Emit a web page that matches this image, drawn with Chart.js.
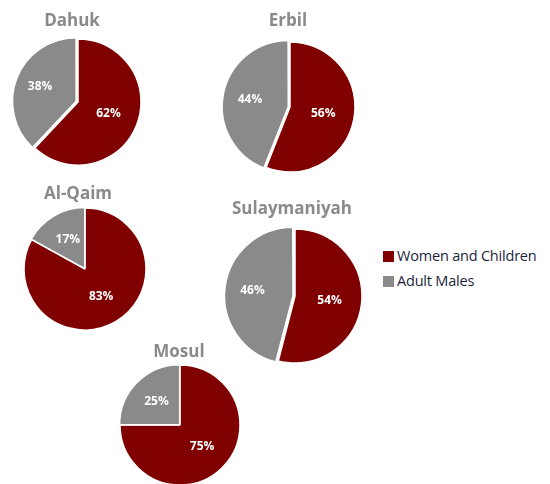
<!DOCTYPE html>
<html>
<head>
<meta charset="utf-8">
<script src="https://cdn.jsdelivr.net/npm/chart.js@4/dist/chart.umd.min.js"></script>
<style>
  html, body { margin: 0; padding: 0; background: #fff; }
  body { width: 550px; height: 484px; position: relative; overflow: hidden; font-family: "Open Sans", "Noto Sans", sans-serif; }
  .pie { position: absolute; }
  .title { position: absolute; transform: translate(-50%, -50%); font-weight: bold; font-size: 17px; color: #8a8a8a; white-space: nowrap; }
  .legend { position: absolute; left: 383px; top: 243px; font-size: 14.5px; color: #1c1f3a; letter-spacing: -0.2px; }
  .legend div { height: 25px; line-height: 25px; white-space: nowrap; }
  .legend span { display: inline-block; width: 11px; height: 11px; margin-right: 3px; vertical-align: -1px; }
</style>
</head>
<body>
<div class="legend" id="legend"></div>
<script>
// chart data
var regions = ['Dahuk', 'Erbil', 'Al-Qaim', 'Sulaymaniyah', 'Mosul'];
var seriesNames = ['Women and Children', 'Adult Males'];
var womenChildren = [62, 56, 83, 54, 75];
var adultMales = [38, 44, 17, 46, 25];

var colors = ['#800000', '#8a8a8a'];

// where each pie sits on the page: centre, radius, how far the gray slice is pulled out, title position
var layout = [
  { cx: 78,  cy: 102, r: 63, pull: 8, tx: 72,  ty: 19 },
  { cx: 290, cy: 107, r: 65, pull: 7, tx: 288, ty: 19 },
  { cx: 85,  cy: 269, r: 61, pull: 2, tx: 78,  ty: 192 },
  { cx: 295, cy: 296, r: 67, pull: 8, tx: 292, ty: 207 },
  { cx: 180, cy: 425, r: 60, pull: 2, tx: 179, ty: 350 }
];

// percent labels drawn inside each slice
var sliceLabels = {
  id: 'sliceLabels',
  afterDatasetsDraw: function (chart) {
    var ctx = chart.ctx;
    var meta = chart.getDatasetMeta(0);
    var values = chart.data.datasets[0].data;
    ctx.save();
    ctx.font = 'bold 12px "Open Sans", "Noto Sans", sans-serif';
    ctx.fillStyle = '#ffffff';
    ctx.textAlign = 'center';
    ctx.textBaseline = 'middle';
    meta.data.forEach(function (arc, i) {
      var mid = (arc.startAngle + arc.endAngle) / 2;
      var off = arc.options.offset || 0;
      var d = arc.outerRadius * 0.52 + off;
      ctx.fillText(values[i] + '%', arc.x + Math.cos(mid) * d, arc.y + Math.sin(mid) * d);
    });
    ctx.restore();
  }
};

var SIZE = 170;

regions.forEach(function (name, i) {
  var L = layout[i];

  var box = document.createElement('div');
  box.className = 'pie';
  box.style.left = (L.cx - SIZE / 2) + 'px';
  box.style.top = (L.cy - SIZE / 2) + 'px';
  box.style.width = SIZE + 'px';
  box.style.height = SIZE + 'px';
  var canvas = document.createElement('canvas');
  box.appendChild(canvas);
  document.body.appendChild(box);

  var title = document.createElement('div');
  title.className = 'title';
  title.style.left = L.tx + 'px';
  title.style.top = L.ty + 'px';
  title.textContent = name;
  document.body.appendChild(title);

  new Chart(canvas, {
    type: 'pie',
    data: {
      labels: seriesNames,
      datasets: [{
        data: [womenChildren[i], adultMales[i]],
        backgroundColor: colors,
        borderColor: '#ffffff',
        borderWidth: 1.5,
        offset: [0, L.pull],
        radius: L.r
      }]
    },
    options: {
      responsive: true,
      maintainAspectRatio: false,
      animation: false,
      layout: { padding: 0 },
      plugins: { legend: { display: false }, tooltip: { enabled: false } }
    },
    plugins: [sliceLabels]
  });
});

// legend
var legend = document.getElementById('legend');
seriesNames.forEach(function (name, i) {
  var row = document.createElement('div');
  var sw = document.createElement('span');
  sw.style.background = colors[i];
  row.appendChild(sw);
  row.appendChild(document.createTextNode(name));
  legend.appendChild(row);
});
</script>
</body>
</html>
